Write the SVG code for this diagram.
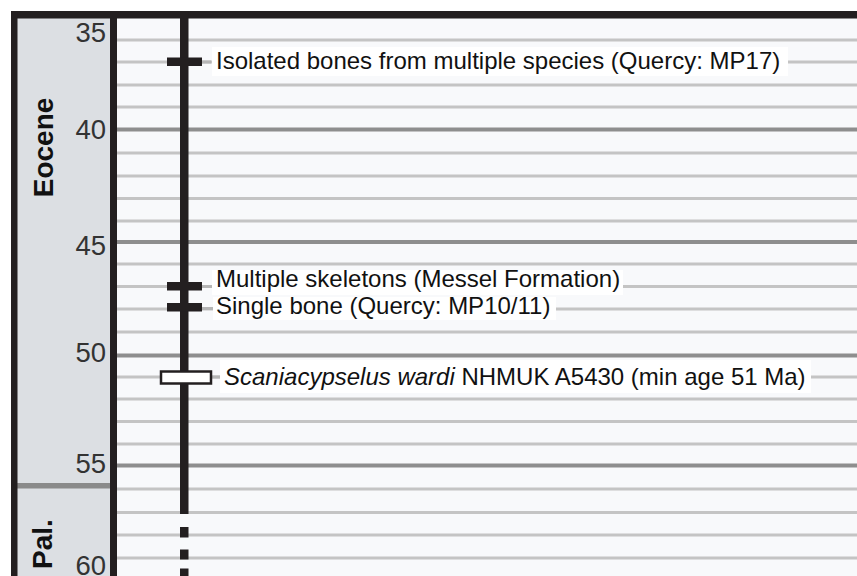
<svg xmlns="http://www.w3.org/2000/svg" width="857" height="576" viewBox="0 0 857 576">
<style>
.minor{stroke:#c4c4c4;stroke-width:3}
.major{stroke:#8e8e8e;stroke-width:4}
.tick{font-family:"Liberation Sans",Arial,sans-serif;font-size:27.5px;fill:#333;text-anchor:end}
.epoch{font-family:"Liberation Sans",Arial,sans-serif;font-size:28px;font-weight:bold;fill:#111;text-anchor:middle}
.lbl{font-family:"Liberation Sans",Arial,sans-serif;font-size:24px;fill:#111}
.box{fill:#ffffff}
.bar{fill:#231f20}
.stub{stroke:#b5b5b5;stroke-width:3}
.blk{fill:#231f20}
</style>
<rect x="0" y="0" width="857" height="576" fill="#ffffff"/>
<rect x="117" y="18" width="740" height="558" fill="#f8f9fb"/>
<rect x="17" y="18" width="93" height="558" fill="#dcdfe3"/>
<g id="grid">
<line class="minor" x1="117" y1="40" x2="857" y2="40"/>
<line class="minor" x1="117" y1="62" x2="857" y2="62"/>
<line class="minor" x1="117" y1="85" x2="857" y2="85"/>
<line class="minor" x1="117" y1="107" x2="857" y2="107"/>
<line class="major" x1="117" y1="129.5" x2="857" y2="129.5"/>
<line class="minor" x1="117" y1="153" x2="857" y2="153"/>
<line class="minor" x1="117" y1="176" x2="857" y2="176"/>
<line class="minor" x1="117" y1="198.5" x2="857" y2="198.5"/>
<line class="minor" x1="117" y1="221" x2="857" y2="221"/>
<line class="major" x1="117" y1="242" x2="857" y2="242"/>
<line class="minor" x1="117" y1="264" x2="857" y2="264"/>
<line class="minor" x1="117" y1="286.5" x2="857" y2="286.5"/>
<line class="minor" x1="117" y1="309" x2="857" y2="309"/>
<line class="minor" x1="117" y1="332" x2="857" y2="332"/>
<line class="major" x1="117" y1="355.5" x2="857" y2="355.5"/>
<line class="minor" x1="117" y1="377" x2="857" y2="377"/>
<line class="minor" x1="117" y1="399" x2="857" y2="399"/>
<line class="minor" x1="117" y1="421.5" x2="857" y2="421.5"/>
<line class="minor" x1="117" y1="444" x2="857" y2="444"/>
<line class="major" x1="117" y1="465.5" x2="857" y2="465.5"/>
<line class="minor" x1="117" y1="489" x2="857" y2="489"/>
<line class="minor" x1="117" y1="512.5" x2="857" y2="512.5"/>
<line class="minor" x1="117" y1="535" x2="857" y2="535"/>
<line class="minor" x1="117" y1="558" x2="857" y2="558"/>
</g>
<g id="axis">
<rect x="17" y="483" width="93" height="5.5" fill="#8a8a8a"/>
<rect class="blk" x="11" y="11" width="846" height="7.5"/>
<rect class="blk" x="11" y="11" width="6.5" height="565"/>
<rect class="blk" x="110" y="11" width="7" height="565"/>
<text class="tick" x="106" y="42">35</text>
<text class="tick" x="106" y="138.5">40</text>
<text class="tick" x="106" y="254.5">45</text>
<text class="tick" x="106" y="361.5">50</text>
<text class="tick" x="106" y="472.5">55</text>
<text class="tick" x="106" y="575">60</text>
<text class="epoch" transform="translate(53,147.5) rotate(-90)">Eocene</text>
<text class="epoch" transform="translate(52,544) rotate(-90)">Pal.</text>
</g>
<g id="timeline">
<rect class="blk" x="180" y="11" width="8.5" height="503"/>
<rect class="blk" x="180" y="527" width="8.5" height="10.5"/>
<rect class="blk" x="180" y="549.5" width="8.5" height="10"/>
<rect class="blk" x="180" y="568.5" width="8.5" height="7.5"/>
</g>
<g id="connectors">
<line class="stub" x1="202" y1="62" x2="211" y2="62"/>
<line class="stub" x1="202" y1="286.5" x2="212" y2="286.5"/>
<line class="stub" x1="202" y1="308.5" x2="213" y2="308.5"/>
<line class="stub" x1="211" y1="377" x2="220" y2="377"/>
</g>
<g id="node-quercy-mp17">
<rect class="box" x="212" y="47" width="576" height="29"/>
<rect class="bar" x="167" y="57.5" width="35" height="8.5"/>
<text class="lbl" x="216" y="69">Isolated bones from multiple species (Quercy: MP17)</text>
</g>
<g id="node-messel">
<rect class="box" x="212" y="270" width="411" height="25"/>
<rect class="bar" x="167" y="282" width="35" height="8.5"/>
<text class="lbl" x="216" y="287">Multiple skeletons (Messel Formation)</text>
</g>
<g id="node-quercy-mp10">
<rect class="box" x="213" y="297" width="343" height="23"/>
<rect class="bar" x="167" y="303" width="35" height="8.5"/>
<text class="lbl" x="216" y="314">Single bone (Quercy: MP10/11)</text>
</g>
<g id="node-scaniacypselus">
<rect class="box" x="220" y="360" width="591" height="33"/>
<rect x="161" y="371.5" width="50" height="12" fill="#ffffff" stroke="#231f20" stroke-width="2.5"/>
<text class="lbl" x="224" y="385"><tspan font-style="italic">Scaniacypselus wardi</tspan> NHMUK A5430 (min age 51 Ma)</text>
</g>
</svg>
